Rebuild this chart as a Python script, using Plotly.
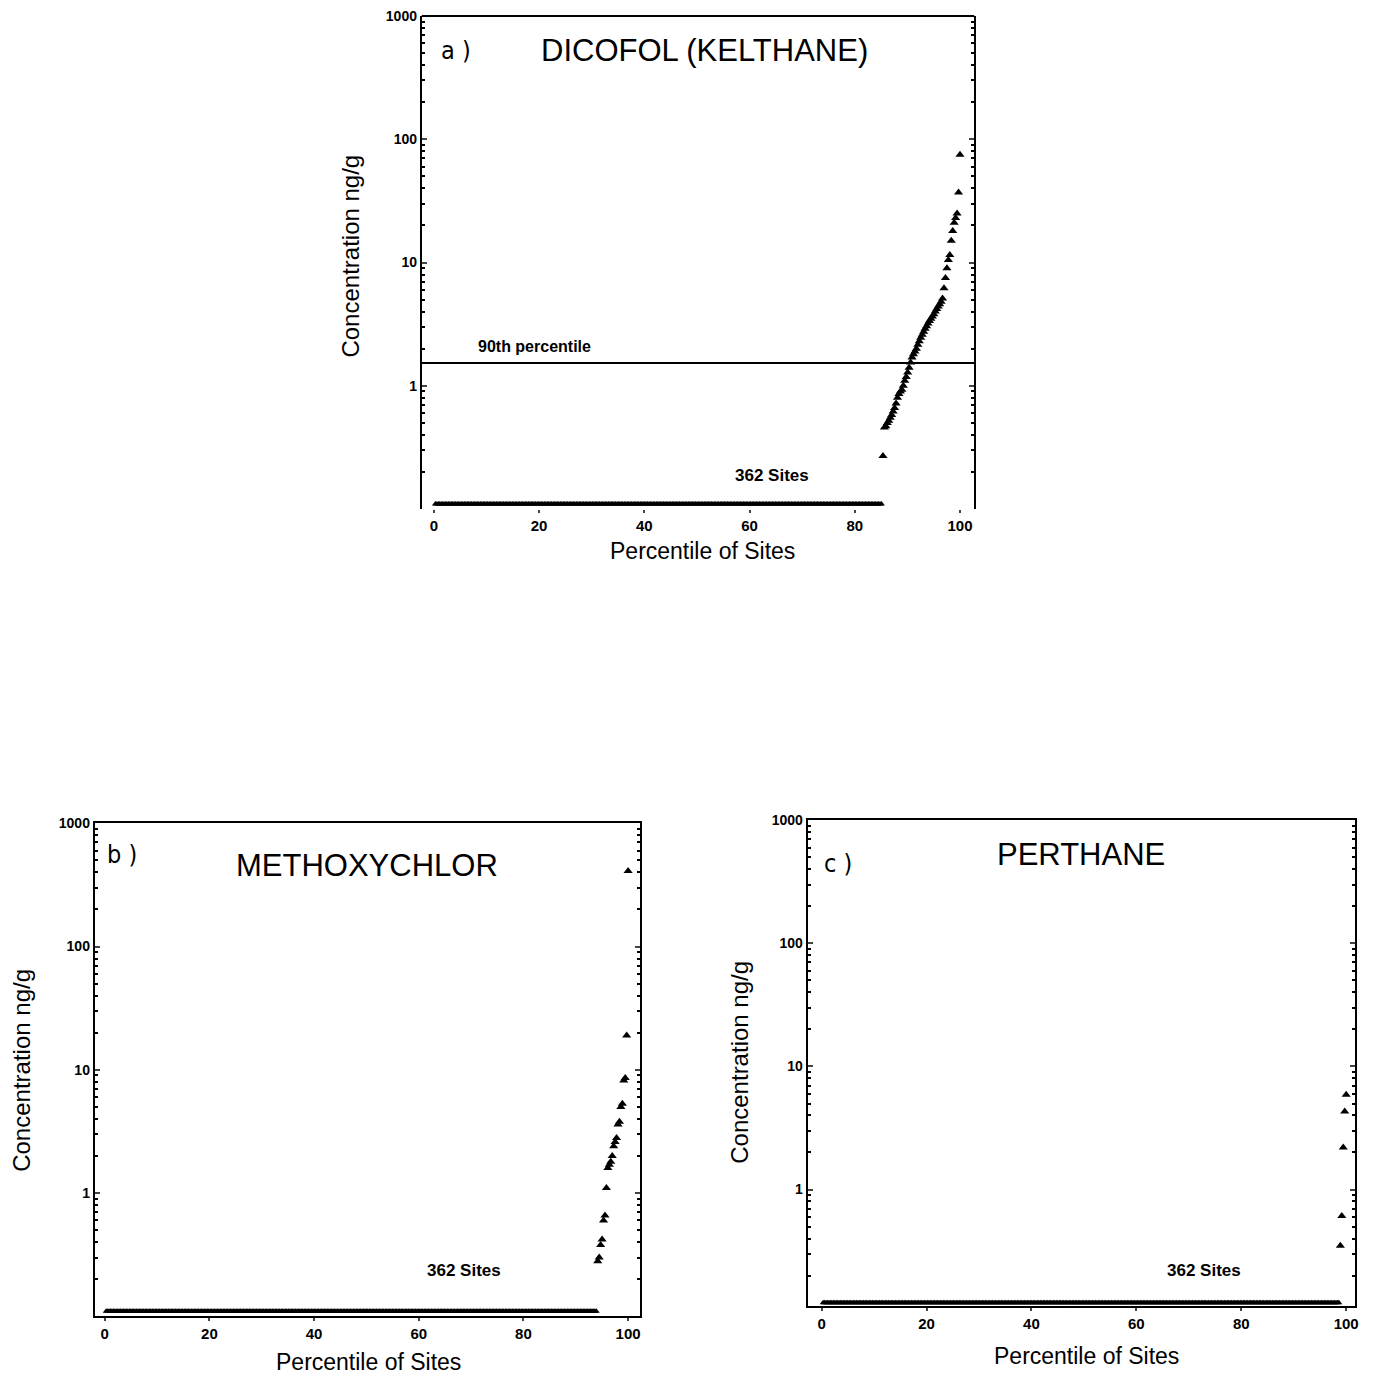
import plotly.graph_objects as go

N_SITES = 362

# Panel a: DICOFOL (KELTHANE)
A_ND_COUNT = 308
A_ND_VALUE = 0.11
A_DETECTED = [0.27, 0.46, 0.47, 0.50, 0.52, 0.55, 0.58, 0.62, 0.66, 0.72,
              0.80, 0.86, 0.90, 0.93, 1.00, 1.10, 1.18, 1.28, 1.40, 1.55,
              1.70, 1.80, 1.90, 2.00, 2.15, 2.30, 2.45, 2.60, 2.75, 2.90,
              3.05, 3.20, 3.35, 3.50, 3.65, 3.80, 4.00, 4.20, 4.40, 4.60,
              4.80, 5.10, 6.20, 7.50, 9.00, 10.5, 11.5, 15.0, 18.0, 21.0,
              23.0, 25.0, 37.0, 75.0]
A_P90 = 1.53

# Panel b: METHOXYCHLOR
B_ND_COUNT = 340
B_ND_VALUE = 0.11
B_DETECTED = [0.28, 0.30, 0.38, 0.42, 0.60, 0.66, 1.1, 1.6, 1.7, 1.8, 2.0,
              2.4, 2.6, 2.8, 3.6, 3.8, 5.0, 5.3, 8.2, 8.6, 19.0, 410.0]

# Panel c: PERTHANE
C_ND_COUNT = 357
C_ND_VALUE = 0.12
C_DETECTED = [0.35, 0.61, 2.2, 4.3, 5.9]

TITLES = ["DICOFOL (KELTHANE)", "METHOXYCHLOR", "PERTHANE"]
LETTERS = ["a )", "b )", "c )"]
SITES_LABEL = "362 Sites"
P90_LABEL = "90th percentile"
X_TITLE = "Percentile of Sites"
Y_TITLE = "Concentration ng/g"
X_TICKS = [0, 20, 40, 60, 80, 100]
Y_TICKS = [1, 10, 100, 1000]

W = H = 1378
OFFX = 6
OFFY = 8
FONT = "Liberation Sans, Arial, sans-serif"


def px(v):
    return (v - OFFX) / W


def py(v):
    return 1 - (v - OFFY) / H


def series(nd_count, nd_value, detected):
    n = nd_count + len(detected)
    xs = [(i + 1) / N_SITES * 100 for i in range(n)]
    ys = [nd_value] * nd_count + list(detected)
    return xs[:nd_count], ys[:nd_count], xs[nd_count:], ys[nd_count:]


# panel geometry in page pixels (with label positions)
panels = [
    dict(l=421, r=975, t=8, b=504, xr=[-2.3, 102.7], yr=[-1, 3],
         xt=(703, 546), yt=(350, 250), sites=(772, 470),
         letter=(438, 43), title=(705, 43)),
    dict(l=93, r=640, t=820, b=1316, xr=[-1.9, 102.3], yr=[-1, 3],
         xt=(368, 1362), yt=(20, 1068), sites=(463, 1270),
         letter=(103, 851), title=(366, 862)),
    dict(l=808, r=1357, t=817, b=1306, xr=[-2.66, 101.7], yr=[-0.95, 3.0],
         xt=(1088, 1356), yt=(740, 1060), sites=(1205, 1270),
         letter=(822, 860), title=(1082, 851)),
]
data = [(A_ND_COUNT, A_ND_VALUE, A_DETECTED),
        (B_ND_COUNT, B_ND_VALUE, B_DETECTED),
        (C_ND_COUNT, C_ND_VALUE, C_DETECTED)]

minor_vals = [m * 10 ** e for e in range(-1, 3) for m in range(2, 10)]

fig = go.Figure()
layout = dict(width=W, height=H, margin=dict(l=0, r=0, t=0, b=0),
              paper_bgcolor="white", plot_bgcolor="white", showlegend=False,
              font=dict(family=FONT, color="black"))
annotations = []
shapes = []

for i, (p, d) in enumerate(zip(panels, data)):
    sfx = "" if i == 0 else str(i + 1)
    xa, ya = "x" + sfx, "y" + sfx
    ndx, ndy, dx, dy = series(*d)
    fig.add_trace(go.Scatter(x=ndx, y=ndy, mode="markers", xaxis=xa, yaxis=ya,
                             marker=dict(symbol="triangle-up", size=6, color="black"),
                             cliponaxis=False))
    fig.add_trace(go.Scatter(x=dx, y=dy, mode="markers", xaxis=xa, yaxis=ya,
                             marker=dict(symbol="triangle-up", size=8, color="black"),
                             cliponaxis=False))
    layout["xaxis" + sfx] = dict(domain=[px(p["l"]), px(p["r"])], range=p["xr"], anchor=ya,
                                 tickvals=X_TICKS, ticks="outside", ticklen=3,
                                 tickwidth=1.5, showline=(i != 0), linecolor="black",
                                 linewidth=2, mirror=True, showgrid=False,
                                 zeroline=False, ticklabeloverflow="allow",
                                 tickfont=dict(size=15, family=FONT, weight="bold"))
    layout["yaxis" + sfx] = dict(domain=[py(p["b"]), py(p["t"])], range=p["yr"], type="log",
                                 anchor=xa, tickvals=Y_TICKS,
                                 ticktext=[str(v) for v in Y_TICKS],
                                 ticks="inside", ticklen=5, tickwidth=1.5,
                                 showline=True, linecolor="black", linewidth=2,
                                 mirror="ticks", showgrid=False, zeroline=False,
                                 ticklabelstandoff=0, ticklabeloverflow="allow",
                                 minor=dict(tickvals=minor_vals, ticks="inside",
                                            ticklen=3, tickcolor="black", showgrid=False),
                                 tickfont=dict(size=14, family=FONT, weight="bold"))
    if i == 0:
        shapes.append(dict(type="line", xref="x domain", yref="y domain",
                           x0=0, x1=1, y0=1, y1=1, line=dict(color="black", width=2)))
    annotations.append(dict(text=X_TITLE, xref="paper", yref="paper",
                            x=px(p["xt"][0]), y=py(p["xt"][1]),
                            showarrow=False, font=dict(size=23, family=FONT),
                            xanchor="center", yanchor="middle"))
    annotations.append(dict(text=Y_TITLE, xref="paper", yref="paper",
                            x=px(p["yt"][0]), y=py(p["yt"][1]),
                            textangle=-90, showarrow=False,
                            font=dict(size=24, family=FONT),
                            xanchor="center", yanchor="middle"))
    annotations.append(dict(text="<b>" + SITES_LABEL + "</b>", xref="paper", yref="paper",
                            x=px(p["sites"][0]), y=py(p["sites"][1]),
                            showarrow=False, font=dict(size=17, family=FONT),
                            xanchor="center", yanchor="middle"))
    annotations.append(dict(text=LETTERS[i], xref="paper", yref="paper",
                            x=px(p["letter"][0]), y=py(p["letter"][1]),
                            showarrow=False, xanchor="left", yanchor="middle",
                            font=dict(size=25, family="DejaVu Sans Condensed, DejaVu Sans")))
    annotations.append(dict(text=TITLES[i], xref="paper", yref="paper",
                            x=px(p["title"][0]), y=py(p["title"][1]),
                            showarrow=False, xanchor="center", yanchor="middle",
                            font=dict(size=31, family=FONT)))

shapes.append(dict(type="line", xref="x domain", yref="y", x0=0, x1=1,
                   y0=A_P90, y1=A_P90, line=dict(color="black", width=2)))
annotations.append(dict(text="<b>" + P90_LABEL + "</b>", xref="paper", yref="paper",
                        x=px(475), y=py(340), showarrow=False, xanchor="left",
                        yanchor="middle", font=dict(size=16, family=FONT)))

layout["annotations"] = annotations
layout["shapes"] = shapes
fig.update_layout(**layout)
fig.write_html("out.html")
